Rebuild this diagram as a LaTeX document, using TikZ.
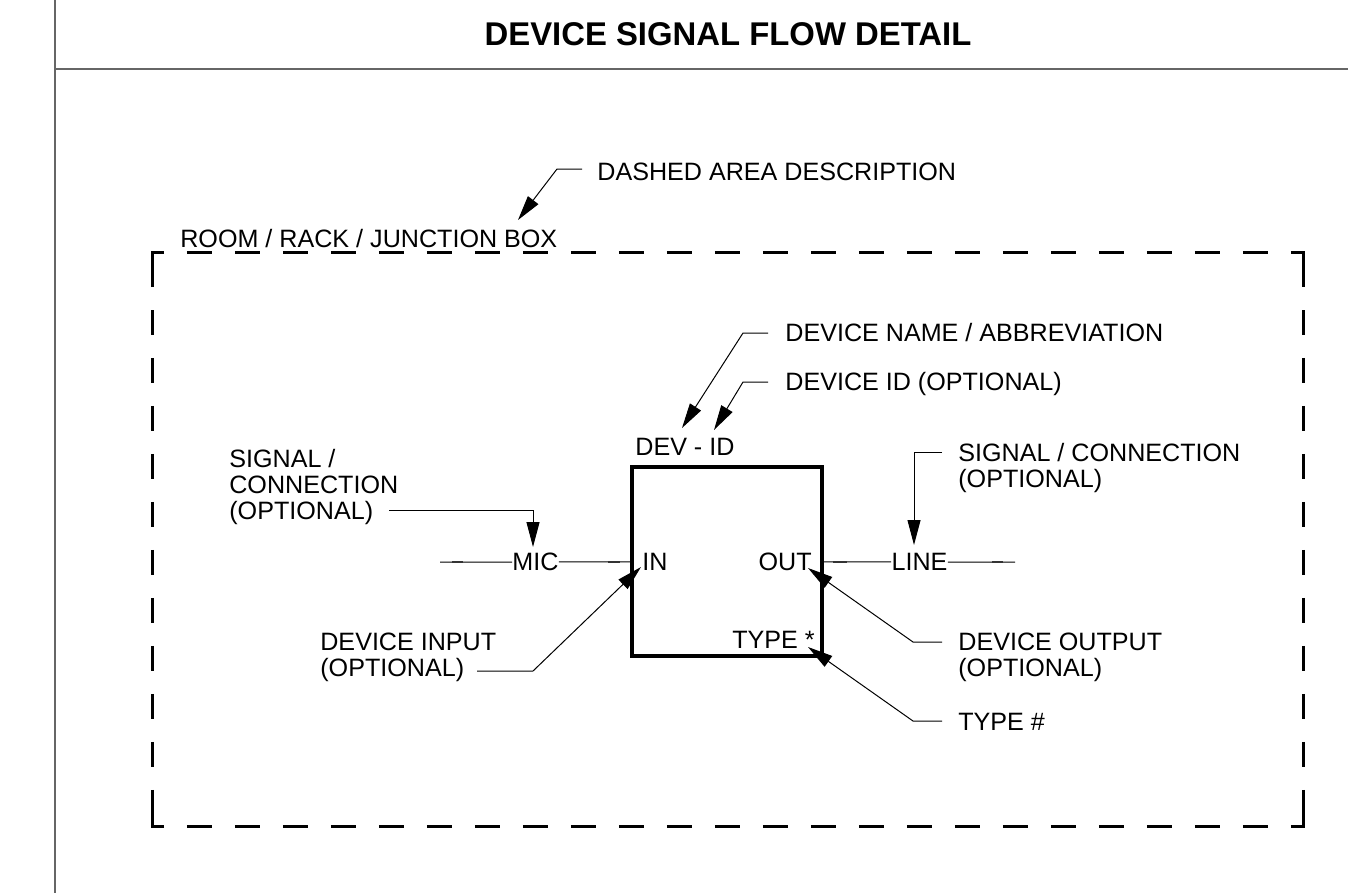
\documentclass[tikz,border=0pt]{standalone}
\usepackage{fontspec}
\setmainfont{Liberation Sans}
\usetikzlibrary{positioning,arrows.meta,calc}

\begin{document}
\begin{tikzpicture}[x=0.02cm,y=-0.02cm,>={Triangle[length=5mm,width=2.6mm]},
  lbl/.style={font=\fontsize{14.3}{14.74}\selectfont,inner sep=0pt},
  lead/.style={line width=0.2mm},
  sheet/.style={draw=black!60,line width=0.3mm},
  areaside/.style={line width=0.6mm},
  areadash/.style={areaside,dash pattern=on 5mm off 4.6mm,dash phase=5mm}]
\useasboundingbox (0,0) rectangle (1348,893);
% sheet frame and title
\draw[sheet] (55,0) -- (55,893);
\draw[sheet] (55,69) -- (1348,69);
\node[font=\bfseries\fontsize{18.7}{22}\selectfont,inner sep=0pt,anchor=base] (title) at (728,45) {DEVICE SIGNAL FLOW DETAIL};

% dashed area
\draw[areaside] (152,287) |- (164,252);
\draw[areaside] (1291,252) -| (1303,287);
\draw[areaside] (1303,791) |- (1291,826);
\draw[areaside] (164,826) -| (152,791);
\draw[areadash] (164,252) -- (1291,252);
\draw[areadash] (164,826) -- (1291,826);
\draw[areadash] (152,287) -- (152,791);
\draw[areadash] (1303,287) -- (1303,791);
\node[lbl,anchor=base west] (arealbl) at (180,247) {ROOM / RACK / JUNCTION BOX};
\node[lbl,anchor=base west] (areadesc) at (597,180) {DASHED AREA DESCRIPTION};
\coordinate (areatip) at (518,220);
\draw[lead,->] ($(areadesc.base west)+(-15,-11)$) -- ++(-25,0) -- (areatip);

% device
\node[draw,line width=0.8mm,minimum width=3.8cm,minimum height=3.78cm,inner sep=0pt] (dev) at (727,561.5) {};
\node[lbl,anchor=base west] (devid) at (635,455) {DEV - ID};
\node[lbl,anchor=west] (inlbl) at (642,562) {IN};
\node[lbl,anchor=east] (outlbl) at (812,562) {OUT};
\node[lbl,anchor=base east] (typelbl) at (815,648) {TYPE *};

% signal line
\node[lbl] (mic) at (535.5,562) {MIC};
\node[lbl] (linelbl) at (919.5,562) {LINE};
\coordinate (sigL) at (440,562);
\coordinate (sigR) at (1015,562);
\draw[lead] (sigL) -- (mic) -- (dev);
\draw[lead] (dev) -- (linelbl) -- (sigR);
\foreach \a/\b in {452/463,608/620,833/847,992/1003}
  \draw[line width=0.35mm,black!80] (\a,562) -- (\b,562);

% callouts
\coordinate (nametip) at (682,428);
\coordinate (idtip) at (714,430);
\coordinate (sigtipL) at (533,547);
\coordinate (sigtipR) at (914,545);
\coordinate (intip) at (641,567);
\coordinate (outtip) at (808,568);
\coordinate (typetip) at (808,647);
\node[lbl,anchor=base west] (devname) at (785,341) {DEVICE NAME / ABBREVIATION};
\node[lbl,anchor=base west] (devidtxt) at (785,390) {DEVICE ID (OPTIONAL)};
\node[lbl,anchor=north west,align=left] (sigtxtL) at (229,449) {SIGNAL /\\CONNECTION\\(OPTIONAL)};
\node[lbl,anchor=north west,align=left] (sigtxtR) at (958,443) {SIGNAL / CONNECTION\\(OPTIONAL)};
\node[lbl,anchor=north west,align=left] (devin) at (320,633) {DEVICE INPUT\\(OPTIONAL)};
\node[lbl,anchor=north west,align=left] (devout) at (958,633) {DEVICE OUTPUT\\(OPTIONAL)};
\node[lbl,anchor=base west] (typenum) at (958,730) {TYPE \#};
\draw[lead,->] ($(devname.base west)+(-17,-8)$) -- ++(-25,0) -- (nametip);
\draw[lead,->] ($(devidtxt.base west)+(-17,-8)$) -- ++(-25,0) -- (idtip);
\draw[lead,->] ($(sigtxtL.north west)+(160,61)$) -| (sigtipL);
\draw[lead,->] ($(sigtxtR.north west)+(-16,9)$) -| (sigtipR);
\draw[lead,->] ($(devin.north west)+(157,38)$) -- ++(56,0) -- (intip);
\draw[lead,->] ($(devout.north west)+(-16,9)$) -- ++(-29,0) -- (outtip);
\draw[lead,->] ($(typenum.base west)+(-16,-9)$) -- ++(-29,0) -- (typetip);
\end{tikzpicture}
\end{document}
